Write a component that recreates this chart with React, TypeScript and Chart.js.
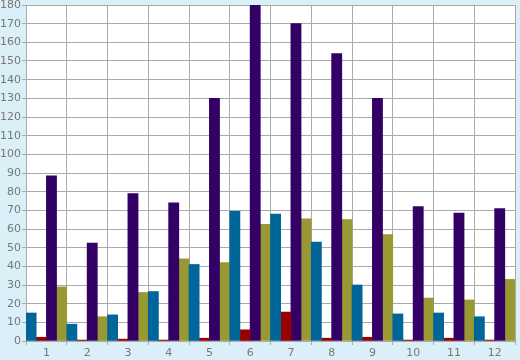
import React, { useEffect, useRef } from "react";
import { Chart, registerables } from "chart.js";

Chart.register(...registerables);

const categories = ["1", "2", "3", "4", "5", "6", "7", "8", "9", "10", "11", "12"];
const seriesBlue = [15, 9, 14, 26.5, 41, 69.5, 68, 53, 30, 14.5, 15, 13];
const seriesRed = [2, 0.5, 1, 0.5, 1.5, 6, 15.5, 1.5, 2, 0.5, 1.5, 0.5];
const seriesPurple = [88.5, 52.5, 79, 74, 130, 180, 170, 154, 130, 72, 68.5, 71];
const seriesOlive = [29, 13, 26, 44, 42, 62.5, 65.5, 65, 57, 23, 22, 33];

const colors = ["#006699", "#990000", "#330066", "#999933"];

export default function App() {
  const ref = useRef<HTMLCanvasElement>(null);
  useEffect(() => {
    document.body.style.margin = "0";
    const ctx = ref.current!;
    const mk = (data: number[], c: string) => ({
      data,
      backgroundColor: c,
      borderWidth: 0,
      categoryPercentage: 1,
      barPercentage: 1,
    });
    const chart = new Chart(ctx, {
      type: "bar",
      data: {
        labels: categories,
        datasets: [
          mk(seriesBlue, colors[0]),
          mk(seriesRed, colors[1]),
          mk(seriesPurple, colors[2]),
          mk(seriesOlive, colors[3]),
        ],
      },
      options: {
        animation: false,
        responsive: false,
        layout: { padding: { top: 5, right: 5, left: 0, bottom: 0 } },
        plugins: { legend: { display: false }, tooltip: { enabled: false } },
        scales: {
          x: {
            grid: { color: "#aaaaaa", offset: true, tickLength: 4, lineWidth: 1 },
            border: { color: "#aaaaaa" },
            ticks: { color: "#777777", font: { family: "DejaVu Sans", size: 11 }, padding: 2 },
            afterFit: (s: any) => { s.height = 19; s.paddingLeft = 0; s.paddingRight = 0; },
          },
          y: {
            min: 0,
            max: 180,
            grid: { color: "#aaaaaa", tickLength: 4, lineWidth: 1 },
            border: { color: "#aaaaaa" },
            ticks: { stepSize: 10, color: "#777777", font: { family: "DejaVu Sans", size: 11 }, padding: 1 },
            afterFit: (s: any) => { s.width = 26; s.paddingTop = 0; s.paddingBottom = 0; },
          },
        },
      },
      plugins: [
        {
          id: "bg",
          beforeDraw: (c: any) => {
            const g = c.ctx;
            g.save();
            g.fillStyle = "#daeff7";
            g.fillRect(0, 0, c.width, c.height);
            const a = c.chartArea;
            g.fillStyle = "#ffffff";
            g.fillRect(a.left, a.top, a.right - a.left, a.bottom - a.top);
            g.restore();
          },
        },
      ],
    });
    return () => chart.destroy();
  }, []);
  return <canvas ref={ref} width={520} height={360} style={{ display: "block" }} />;
}
